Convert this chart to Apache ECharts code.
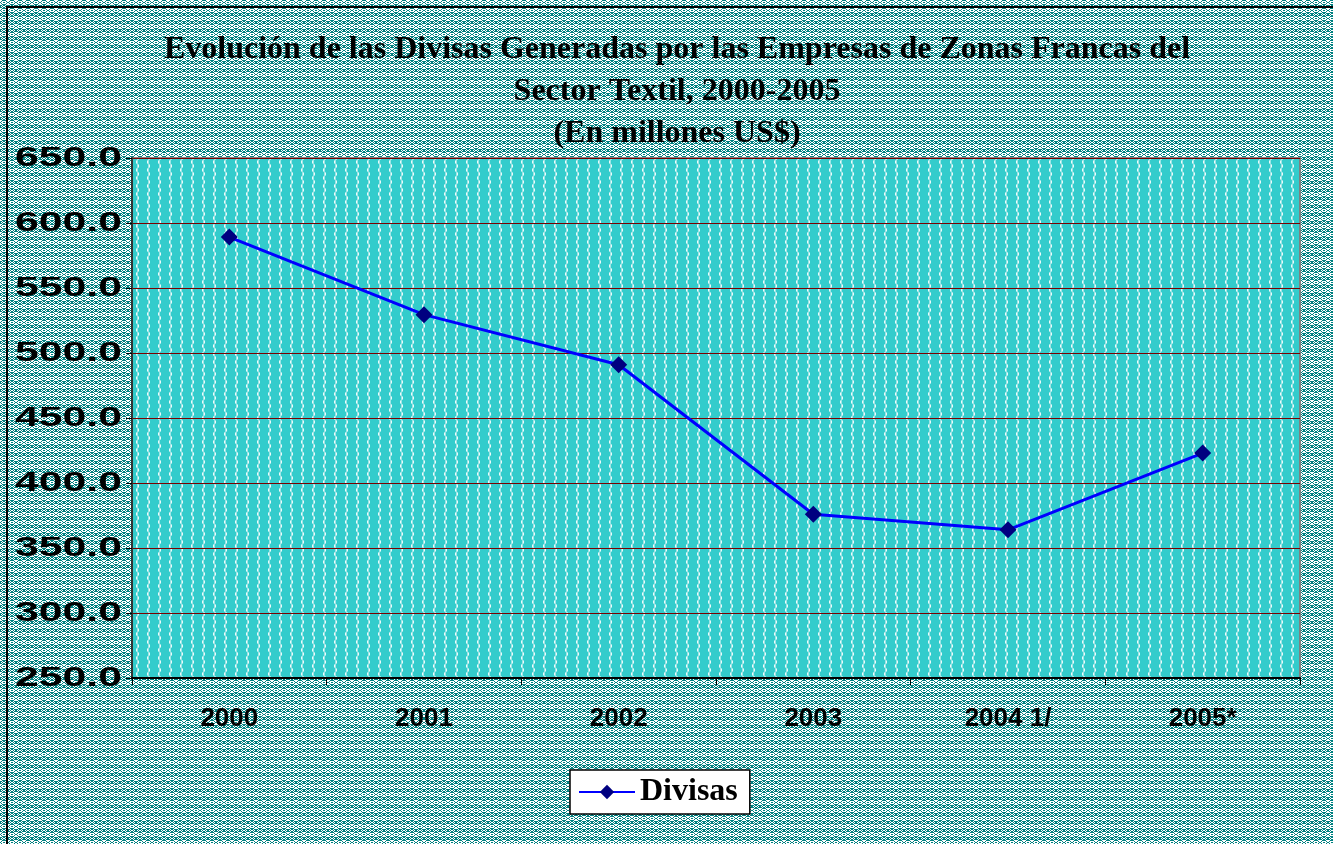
<!DOCTYPE html>
<html>
<head>
<meta charset="utf-8">
<script src="https://cdn.jsdelivr.net/npm/echarts@6/dist/echarts.min.js"></script>
<style>
  html, body { margin: 0; padding: 0; background: #fff; }
  #chart { width: 1333px; height: 844px; }
</style>
</head>
<body>
<div id="chart"></div>
<script>
// datos
var years = ["2000", "2001", "2002", "2003", "2004 1/", "2005*"];
var divisas = [589.2, 529.5, 491.0, 376.0, 364.0, 423.0];
var yTicks = [250, 300, 350, 400, 450, 500, 550, 600, 650];

// patrones de fondo (imitan el grafico de Excel)
function outerPattern() {
  var rows = [
    "..TTTT..",
    ".T....T.",
    "T..TT..T",
    ".T....T.",
    "..TTTT..",
    "TT.TT.TT",
    "T.T..T.T",
    "TT.TT.TT"
  ];
  var c = document.createElement("canvas");
  c.width = 8; c.height = 8;
  var g = c.getContext("2d");
  g.fillStyle = "#ffffff";
  g.fillRect(0, 0, 8, 8);
  g.fillStyle = "#008080";
  rows.forEach(function (r, y) {
    for (var x = 0; x < 8; x++) if (r[x] === "T") g.fillRect(x, y, 1, 1);
  });
  return c;
}
function plotPattern() {
  var c = document.createElement("canvas");
  c.width = 11; c.height = 8;
  var g = c.getContext("2d");
  g.fillStyle = "#33cccc";
  g.fillRect(0, 0, 11, 8);
  g.fillStyle = "#9fe6e6";
  g.fillRect(4, 0, 2, 4);
  g.fillRect(5, 4, 2, 4);
  g.fillStyle = "#eafbfb";
  g.fillRect(4, 1, 1, 2);
  g.fillRect(6, 5, 1, 2);
  return c;
}

var chart = echarts.init(document.getElementById("chart"));

var option = {
  backgroundColor: { image: outerPattern(), repeat: "repeat" },
  title: {
    text: "Evolución de las Divisas Generadas por las Empresas de Zonas Francas del\nSector Textil, 2000-2005\n(En millones US$)",
    left: 672,
    textAlign: "center",
    top: 24,
    textStyle: {
      fontFamily: "Liberation Serif",
      fontWeight: "bold",
      fontSize: 32,
      lineHeight: 42,
      color: "#000"
    }
  },
  legend: {
    data: ["Divisas"],
    left: 570,
    top: 770,
    backgroundColor: "#ffffff",
    borderColor: "#000",
    borderWidth: 1.5,
    borderRadius: 0,
    padding: [6, 12, 6, 8],
    itemWidth: 56,
    itemHeight: 18,
    itemGap: 6,
    textStyle: {
      fontFamily: "Liberation Serif",
      fontWeight: "bold",
      fontSize: 32,
      color: "#000"
    }
  },
  grid: {
    left: 132,
    right: 33,
    top: 158,
    bottom: 166,
    show: true,
    backgroundColor: { image: plotPattern(), repeat: "repeat" },
    borderColor: "#808080",
    borderWidth: 2
  },
  xAxis: {
    type: "category",
    data: years,
    boundaryGap: true,
    axisLine: { lineStyle: { color: "#000", width: 2 } },
    axisTick: { show: true, inside: false, length: 7, lineStyle: { color: "#000", width: 1 } },
    axisLabel: {
      margin: 28,
      fontFamily: "Liberation Sans",
      fontWeight: "bold",
      fontSize: 26,
      color: "#000"
    },
    splitLine: { show: false }
  },
  yAxis: {
    type: "value",
    min: yTicks[0],
    max: yTicks[yTicks.length - 1],
    interval: yTicks[1] - yTicks[0],
    axisLine: { show: true, lineStyle: { color: "#333", width: 2 } },
    axisTick: { show: true, length: 6, lineStyle: { color: "#000" } },
    // las etiquetas van como graphic para poder estirarlas en horizontal
    axisLabel: { show: false },
    splitLine: { show: true, lineStyle: { color: "#7a0000", width: 1 } }
  },
  series: [
    {
      name: "Divisas",
      type: "line",
      data: divisas,
      symbol: "diamond",
      symbolSize: 17,
      itemStyle: { color: "#000080" },
      lineStyle: { color: "#0000ff", width: 3 },
      animation: false
    }
  ]
};

chart.setOption(option);

// etiquetas del eje Y (posicion desde la escala del eje)
var labels = yTicks.map(function (v) {
  var py = chart.convertToPixel({ yAxisIndex: 0 }, v);
  return {
    type: "text",
    x: 122,
    y: py,
    scaleX: 1.5,
    silent: true,
    style: {
      text: v.toFixed(1),
      align: "right",
      verticalAlign: "middle",
      font: "bold 28.5px 'Liberation Sans'",
      fill: "#000"
    }
  };
});
labels.push({
  type: "rect",
  shape: { x: 7, y: 7, width: 1340, height: 850 },
  style: { fill: null, stroke: "#000", lineWidth: 2 },
  silent: true
});
chart.setOption({ graphic: labels });
</script>
</body>
</html>
